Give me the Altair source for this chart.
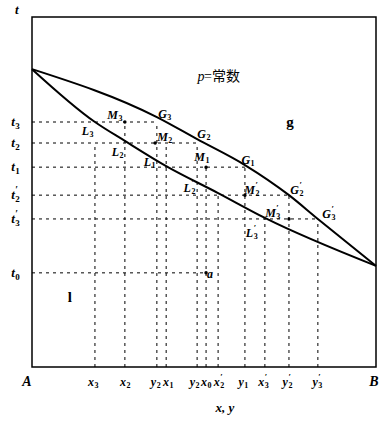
import altair as alt
import pandas as pd

# ---- data (composition x in 0..1, temperature t in arbitrary units 0..100) ----
# upper (vapour, G) curve
g_x = [0.0, 0.363, 0.480, 0.619, 0.747, 0.831, 1.0]
g_t = [85.1, 71.4, 65.1, 57.7, 49.1, 42.3, 28.9]
# lower (liquid, L) curve
l_x = [0.0, 0.183, 0.270, 0.390, 0.541, 0.677, 1.0]
l_t = [85.1, 70.0, 64.6, 57.4, 49.7, 42.6, 28.9]

# vertical dashed lines: x position, top temperature
v_x = [0.183, 0.270, 0.363, 0.390, 0.480, 0.506, 0.541, 0.619, 0.677, 0.747, 0.831]
v_top = [64.0, 70.0, 70.0, 64.0, 64.0, 57.1, 49.1, 57.1, 42.3, 49.1, 42.3]
# bottom labels (letter, subscript, prime) and where they sit along x
v_base = ["x", "x", "y", "x", "y", "x", "x", "y", "x", "y", "y"]
v_sub = ["3", "2", "2", "1", "2", "0", "2", "1", "3", "2", "3"]
v_prime = ["", "", "", "", "", "", "′", "", "′", "′", "′"]
v_lab_x = [0.177, 0.270, 0.358, 0.395, 0.471, 0.506, 0.543, 0.613, 0.672, 0.741, 0.828]

# horizontal dashed lines: temperature, right end, left label
h_t = [70.0, 64.0, 57.1, 49.1, 42.3, 26.9]
h_end = [0.363, 0.480, 0.619, 0.747, 0.831, 0.506]
h_base = ["t", "t", "t", "t", "t", "t"]
h_sub = ["3", "2", "1", "2", "3", "0"]
h_prime = ["", "", "", "′", "′", ""]

# state points (dots)
pt_x = [0.270, 0.358, 0.506, 0.619, 0.747, 0.506]
pt_t = [70.0, 64.0, 57.1, 49.1, 42.3, 26.9]

# point labels
lab_base = ["M", "G", "M", "G", "M", "G", "L", "L", "L", "L",
            "M", "G", "M", "G", "L", "a"]
lab_sub = ["3", "3", "2", "2", "1", "1", "3", "2", "1", "2",
           "2", "2", "3", "3", "3", ""]
lab_prime = ["", "", "", "", "", "", "", "", "", "′",
             "′", "′", "′", "′", "′", ""]
lab_x = [0.247, 0.389, 0.392, 0.503, 0.500, 0.631, 0.163, 0.250, 0.343, 0.459,
         0.645, 0.773, 0.706, 0.866, 0.640, 0.523]
lab_t = [71.9, 72.3, 65.7, 66.6, 60.0, 59.1, 67.4, 61.4, 58.6, 51.1,
         50.6, 50.6, 44.0, 43.7, 38.3, 26.6]

# region labels
reg_text = ["g", "l"]
reg_x = [0.750, 0.110]
reg_t = [70.0, 20.0]

# ---- build tables ----
curves = pd.DataFrame({
    "x": g_x + l_x,
    "t": g_t + l_t,
    "curve": ["G"] * len(g_x) + ["L"] * len(l_x),
})
vlines = pd.DataFrame({"x": v_x, "t0": [0.0] * len(v_x), "t1": v_top})
vlabels = pd.DataFrame({"x": v_lab_x, "base": v_base, "sub": v_sub, "prime": v_prime,
                        "ly": [-4.3] * len(v_x)})
hlines = pd.DataFrame({"t": h_t, "x0": [0.0] * len(h_t), "x1": h_end,
                       "base": h_base, "sub": h_sub, "prime": h_prime,
                       "lx": [-0.044] * len(h_t)})
pts = pd.DataFrame({"x": pt_x, "t": pt_t})
labs = pd.DataFrame({"x": lab_x, "t": lab_t, "base": lab_base, "sub": lab_sub, "prime": lab_prime})
regs = pd.DataFrame({"x": reg_x, "t": reg_t, "lab": reg_text})
corner = pd.DataFrame({"x": [-0.0145, 0.994], "t": [-4.2, -4.2], "lab": ["A", "B"]})
titles = pd.DataFrame({"x": [0.561, -0.044], "t": [-11.8, 102.0], "lab": ["x, y", "t"]})
ptitle = pd.DataFrame({"x": [0.491], "t": [82.9], "lab": ["p"]})
ptitle2 = pd.DataFrame({"x": [0.500], "t": [82.9], "lab": ["=常数"]})

X = alt.Scale(domain=[0, 1], nice=False, zero=False)
T = alt.Scale(domain=[0, 100], nice=False, zero=False)
SERIF = "Liberation Serif"

line_layer = alt.Chart(curves).mark_line(color="black", strokeWidth=2, interpolate="monotone").encode(
    x=alt.X("x:Q", scale=X, axis=None),
    y=alt.Y("t:Q", scale=T, axis=None),
    detail="curve:N",
)

vrule = alt.Chart(vlines).mark_rule(color="black", strokeWidth=1, strokeDash=[3, 4]).encode(
    x=alt.X("x:Q", scale=X, axis=None),
    y=alt.Y("t0:Q", scale=T, axis=None),
    y2="t1:Q",
)
hrule = alt.Chart(hlines).mark_rule(color="black", strokeWidth=1, strokeDash=[3, 4]).encode(
    y=alt.Y("t:Q", scale=T, axis=None),
    x=alt.X("x0:Q", scale=X, axis=None),
    x2="x1:Q",
)

dots = alt.Chart(pts).mark_point(filled=True, color="black", size=12, opacity=1).encode(
    x=alt.X("x:Q", scale=X, axis=None),
    y=alt.Y("t:Q", scale=T, axis=None),
)


def text_layer(df, xcol, ycol, size, col="lab", style="italic", weight="bold",
               align="center", dx=0, dy=0):
    return alt.Chart(df).mark_text(
        font=SERIF, fontSize=size, fontStyle=style, fontWeight=weight,
        align=align, baseline="middle", color="black", dx=dx, dy=dy,
    ).encode(
        x=alt.X(f"{xcol}:Q", scale=X, axis=None),
        y=alt.Y(f"{ycol}:Q", scale=T, axis=None),
        text=f"{col}:N",
    )


def sub_label(df, xcol, ycol, size, shift=1):
    """letter + subscript digit + prime above the subscript"""
    return [
        text_layer(df, xcol, ycol, size, col="base", align="right", dx=shift),
        text_layer(df, xcol, ycol, round(size * 0.7), col="sub", align="left", dx=shift + 0.5,
                   dy=round(size * 0.32), style="normal"),
        text_layer(df, xcol, ycol, round(size * 0.75), col="prime", align="left", dx=shift + 0.5,
                   dy=-round(size * 0.42), style="normal"),
    ]


xtick_layers = sub_label(vlabels, "x", "ly", 12)
ttick_layers = sub_label(hlines, "lx", "t", 13, shift=-2)
pt_layers = sub_label(labs, "x", "t", 12)
reg_text_l = text_layer(regs, "x", "t", 15, style="normal")
corner_text = text_layer(corner, "x", "t", 14)
title_text = text_layer(titles, "x", "t", 13)
p_text = text_layer(ptitle, "x", "t", 14, weight="normal")
p_text2 = alt.Chart(ptitle2).mark_text(
    font=f"{SERIF}, Noto Sans CJK SC", fontSize=14, align="left", baseline="middle", color="black"
).encode(
    x=alt.X("x:Q", scale=X, axis=None),
    y=alt.Y("t:Q", scale=T, axis=None),
    text="lab:N",
)

chart = alt.layer(
    vrule, hrule, line_layer, dots,
    *xtick_layers, *ttick_layers, *pt_layers,
    reg_text_l, corner_text, title_text, p_text, p_text2,
).properties(
    width=344,
    height=350,
    autosize=alt.AutoSizeParams(type="none"),
    padding={"left": 32, "top": 17, "right": 16, "bottom": 56},
    background="white",
).configure_view(stroke="black", strokeWidth=1.5)

chart.save("out.html", embed_options={"renderer": "svg", "actions": False})
